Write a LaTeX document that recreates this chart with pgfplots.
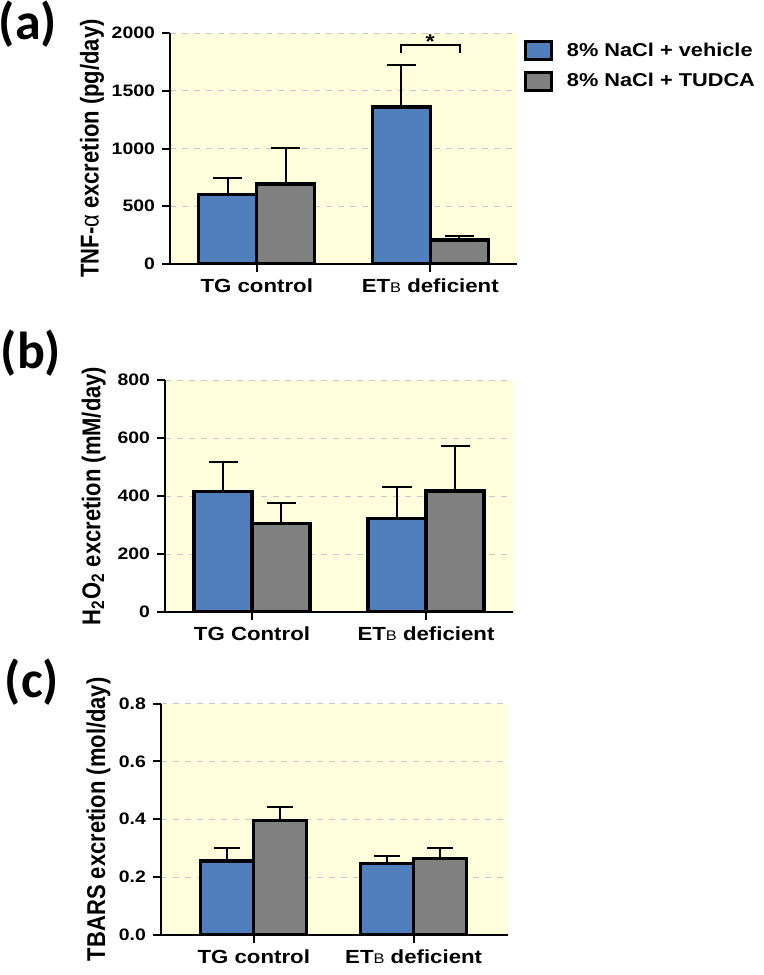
\documentclass[border=0pt]{standalone}
\usepackage{fontspec}
\setmainfont{Liberation Sans}[FakeStretch=1.17]
\newfontfamily\ylabfont{Liberation Sans}
\newfontfamily\panelfont{Carlito}
\usepackage{graphicx}
\usepackage{pgfplots}
\pgfplotsset{compat=1.18}
\definecolor{barblue}{HTML}{4F7FBD}
\definecolor{bargray}{HTML}{808080}
\definecolor{bgyellow}{HTML}{FEFDDC}
\definecolor{gridgray}{HTML}{C8C8C8}

\newcommand{\ETB}{ET{\mdseries\fontsize{7}{7}\selectfont B}}
\newcommand{\ylab}[1]{\scalebox{1}[1.17]{\ylabfont\bfseries #1}}

\tikzset{panel label/.style={font=\panelfont\bfseries\fontsize{26}{30}\selectfont}}

\pgfplotsset{
  panel/.style={
    scale only axis,
    anchor=south west,
    ybar=0pt,
    bar width=29pt,
    axis lines=left,
    axis line style={-, line width=1pt},
    axis background/.style={fill=bgyellow},
    tick align=outside,
    major tick length=4pt,
    tick style={black, line width=1pt},
    xtick={0,1},
    xmin=-0.5, xmax=1.5,
    ymin=0,
    ymajorgrids,
    grid style={gridgray, dashed, line width=0.5pt},
    yticklabel style={font=\fontsize{8.3}{9}\selectfont\bfseries},
    xticklabel style={font=\fontsize{9.5}{11}\selectfont\bfseries},
    /pgf/number format/assume math mode=true,
    /pgf/number format/1000 sep={},
    ylabel style={font=\fontsize{11}{12}\selectfont, anchor=center},
    error bars/y dir=plus,
    error bars/y explicit,
    error bars/error bar style={line width=1pt, black},
    error bars/error mark options={rotate=90, line width=1pt, black, mark size=7.25pt},
  },
  blue bar/.style={fill=barblue, draw=black, line width=1.6pt},
  gray bar/.style={fill=bargray, draw=black, line width=1.6pt},
}

\begin{document}
\begin{tikzpicture}
\useasboundingbox (0,0) rectangle (382pt,-487.5pt);

% (a) TNF-alpha
\begin{axis}[panel,
  at={(85pt,-132pt)}, width=173.5pt, height=115.5pt,
  ymax=2000, ytick={0,500,1000,1500,2000},
  xticklabels={TG control, \ETB\ deficient},
  ylabel={\ylab{TNF-{\mdseries α} excretion (pg/day)}},
  ylabel style={at={(axis description cs:-0.225,0.5)}},
  legend style={at={(rel axis cs:1.001,0.995)}, anchor=north west, draw=none, fill=none,
    font=\fontsize{9.3}{11}\selectfont\bfseries, row sep=3pt,
    /tikz/every odd column/.append style={column sep=5pt}},
  legend cell align=left,
  legend image code/.code={\draw[#1, line width=1.6pt] (0pt,-4.5pt) rectangle (13pt,4.5pt);},
]
\addplot[blue bar] coordinates {(0,600) +- (0,144) (1,1360) +- (0,363)};
\addplot[gray bar] coordinates {(0,693) +- (0,311) (1,208) +- (0,34)};
\legend{8\% NaCl + vehicle, 8\% NaCl + TUDCA}
\draw[line width=0.8pt] (axis cs:0.833,1829) -- (axis cs:0.833,1896) -- (axis cs:1.172,1896) -- (axis cs:1.172,1829);
\node[font=\fontsize{10}{10}\selectfont\bfseries] at (axis cs:1.0,1925) {*};
\end{axis}
\node[panel label] at (14pt,-12pt) {(a)};

% (b) H2O2
\begin{axis}[panel,
  at={(82.5pt,-306pt)}, width=174pt, height=116pt,
  ymax=800, ytick={0,200,400,600,800},
  xticklabels={TG Control, \ETB\ deficient},
  ylabel={\ylab{H\textsubscript{2}O\textsubscript{2} excretion (mM/day)}},
  ylabel style={at={(axis description cs:-0.205,0.5)}},
]
\addplot[blue bar] coordinates {(0,415) +- (0,101) (1,323) +- (0,107)};
\addplot[gray bar] coordinates {(0,306) +- (0,69) (1,417) +- (0,155)};
\end{axis}
\node[panel label] at (15.5pt,-176.5pt) {(b)};

% (c) TBARS
\begin{axis}[panel,
  at={(80.5pt,-467.5pt)}, width=173.5pt, height=115.75pt,
  xmin=-0.58, xmax=1.59,
  bar width=26.5pt,
  ymax=0.8, ytick={0,0.2,0.4,0.6,0.8},
  yticklabel style={/pgf/number format/.cd, fixed, fixed zerofill, precision=1},
  xticklabels={TG control, \ETB\ deficient},
  ylabel={\ylab{TBARS excretion (mol/day)}},
  ylabel style={at={(axis description cs:-0.18,0.5)}},
  error bars/error mark options={rotate=90, line width=1pt, black, mark size=6.6pt},
]
\addplot[blue bar] coordinates {(0,0.256) +- (0,0.043) (1,0.247) +- (0,0.026)};
\addplot[gray bar] coordinates {(0,0.397) +- (0,0.046) (1,0.264) +- (0,0.037)};
\end{axis}
\node[panel label] at (16pt,-341pt) {(c)};
\end{tikzpicture}
\end{document}
